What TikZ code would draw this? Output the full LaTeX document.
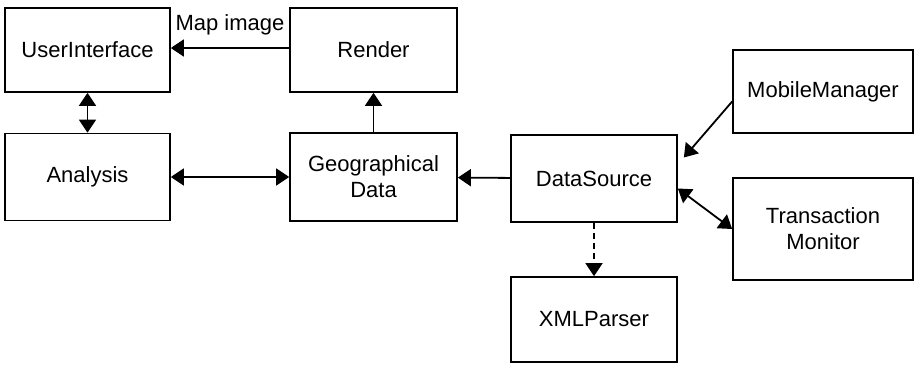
\documentclass[tikz,border=0pt]{standalone}
\usepackage{fontspec}
\setmainfont{Liberation Sans}
\usetikzlibrary{arrows.meta,positioning}
\begin{document}
\begin{tikzpicture}[x=1pt, y=-1pt,
    block/.style={draw, line width=1.7pt, inner sep=0pt, align=center,
        font=\fontsize{22}{26}\selectfont},
    link/.style={line width=1.8pt, -{Triangle[length=13pt,width=17pt]}},
    biglink/.style={line width=1.8pt, {Triangle[length=13pt,width=17pt]}-{Triangle[length=13pt,width=17pt]}}]
    \useasboundingbox (0,0) rectangle (915,364);
    \node[block, minimum width=165pt, minimum height=84pt] (ui) at (87.5,50) {UserInterface};
    \node[block, minimum width=167pt, minimum height=84pt] (render) at (373.5,50) {Render};
    \node[block, minimum width=165pt, minimum height=87pt] (analysis) at (87.5,177) {Analysis};
    \node[block, minimum width=167pt, minimum height=88pt] (geo) at (373.5,177) {Geographical\\Data};
    \node[block, minimum width=166pt, minimum height=87pt] (ds) at (594,178.5) {DataSource};
    \node[block, minimum width=180pt, minimum height=83pt] (mm) at (823,91.5) {MobileManager};
    \node[block, minimum width=180pt, minimum height=102pt] (tm) at (823,229) {Transaction\\Monitor};
    \node[block, minimum width=166pt, minimum height=85pt] (xml) at (594,319.5) {XMLParser};
    \path ([yshift=2pt]render.west) edge[link] node[above=9pt, font=\fontsize{22}{26}\selectfont] (maplabel) {Map image} ([yshift=2pt]ui.east);
    \path (ui) edge[biglink] (analysis);
    \path (analysis) edge[biglink] (geo);
    \path (geo) edge[link] (render);
    \path (ds) edge[link] (geo);
    \path ([yshift=-10pt]mm.west) edge[link] ([xshift=6pt,yshift=21pt]ds.east);
    \path ([yshift=-10pt]ds.east) edge[biglink] (tm.west);
    \path (ds) edge[link, dashed, dash pattern=on 6pt off 4pt] (xml);
\end{tikzpicture}
\end{document}
